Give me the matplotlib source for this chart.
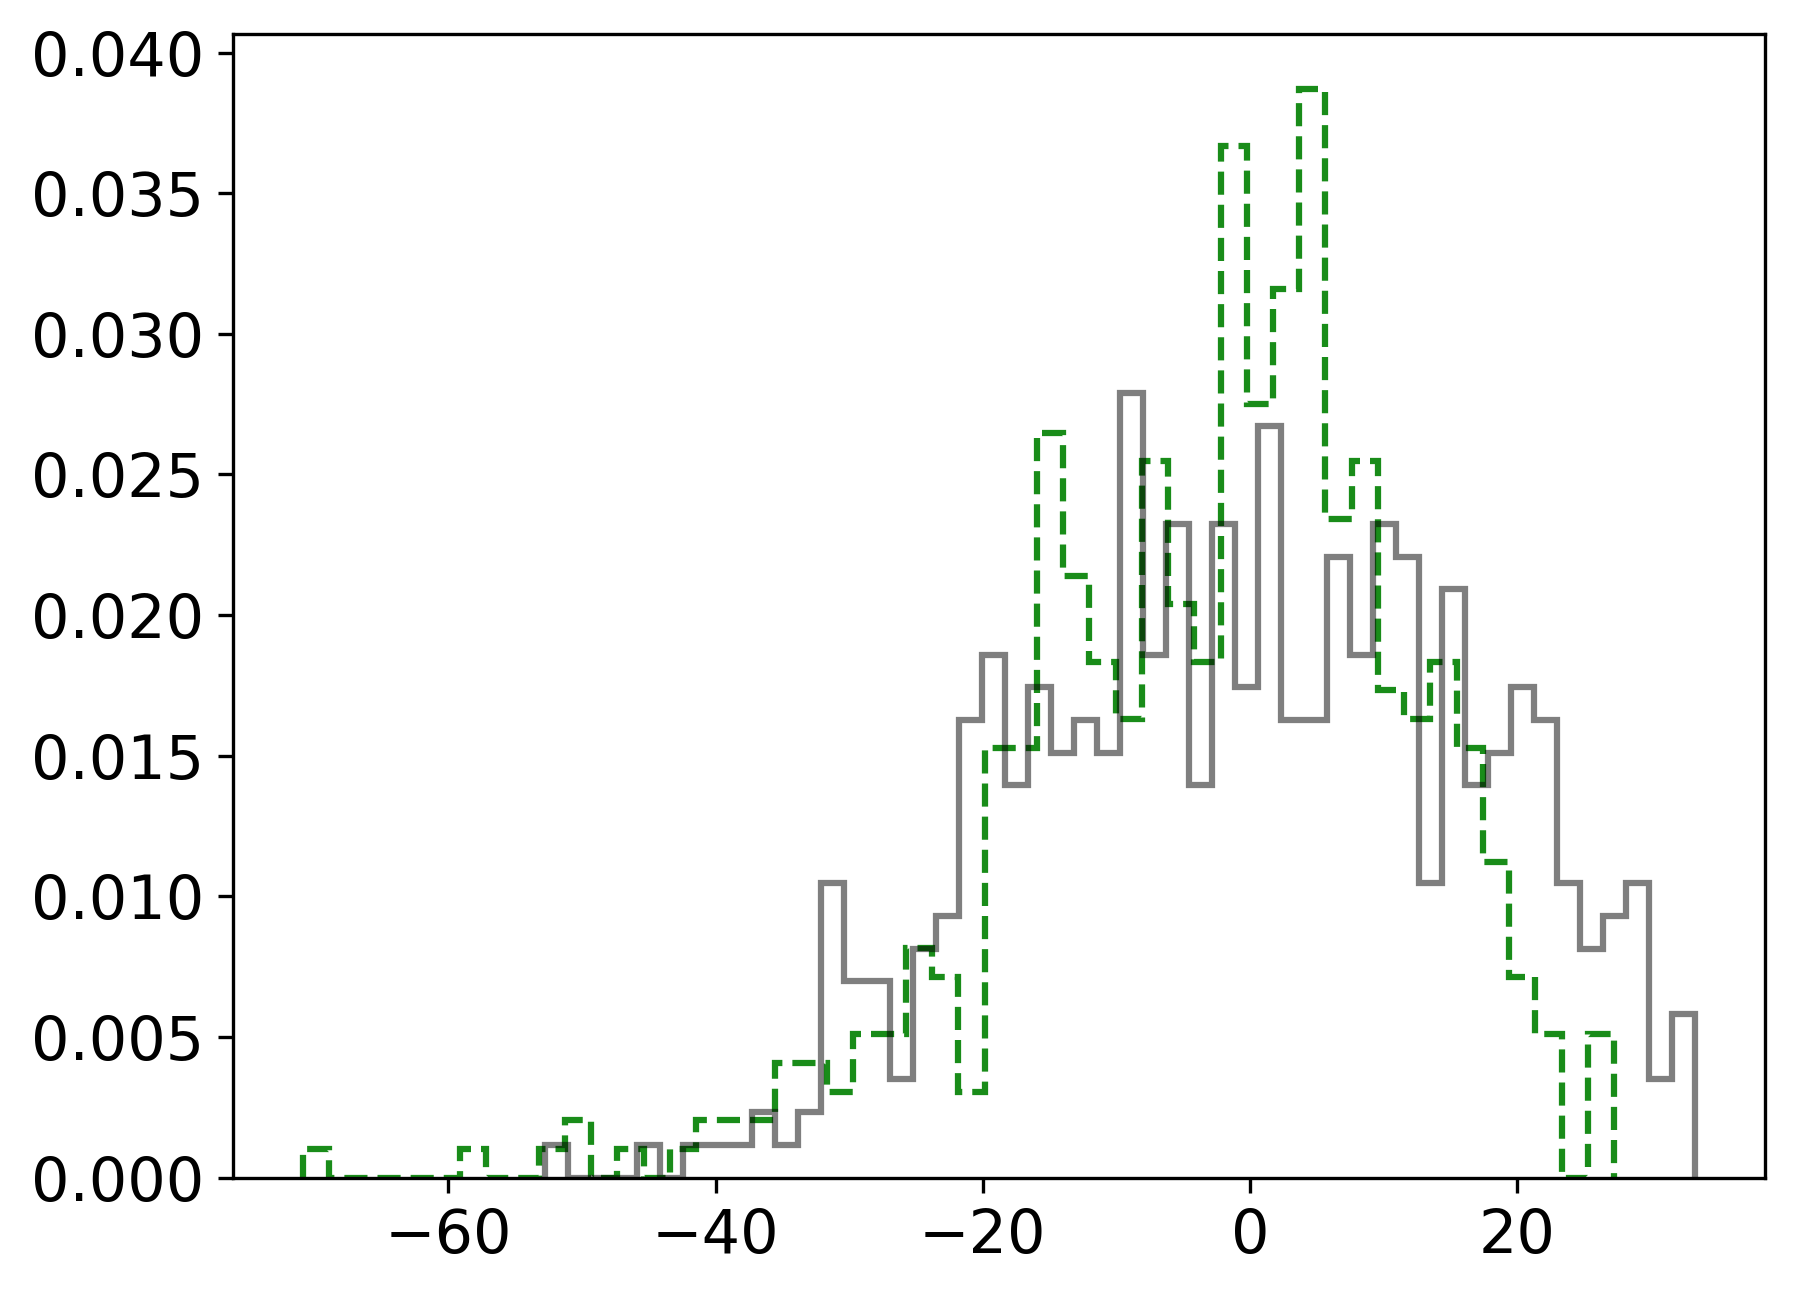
import numpy as np
import matplotlib
matplotlib.use("Agg")
import matplotlib.pyplot as plt

# Sample ranges (min, max) of the two samples
green_range = (-70.91, 27.24)
gray_range = (-52.75, 33.33)
n_bins = 50

# Counts per bin (500 samples each)
green_counts = [1, 0, 0, 0, 0, 0, 1, 0, 0, 1,
                2, 0, 1, 0, 1, 2, 2, 2, 4, 4,
                3, 5, 5, 8, 7, 3, 15, 15, 26, 21,
                18, 16, 25, 20, 18, 36, 27, 31, 38, 23,
                25, 17, 16, 18, 15, 11, 7, 5, 0, 5]
gray_counts = [1, 0, 0, 0, 1, 0, 1, 1, 1, 2,
               1, 2, 9, 6, 6, 3, 7, 8, 14, 16,
               12, 15, 13, 14, 13, 24, 16, 20, 12, 20,
               15, 23, 14, 14, 19, 16, 20, 19, 9, 18,
               12, 13, 15, 14, 9, 7, 8, 9, 3, 5]

W, H, DPI = 1797, 1296, 300
fig = plt.figure(figsize=(W / DPI, H / DPI), dpi=DPI)
ax = fig.add_axes([233 / W, 1 - 1177.5 / H, (1765 - 233) / W, (1177.5 - 34.3) / H])

g_edges = np.linspace(green_range[0], green_range[1], n_bins + 1)
k_edges = np.linspace(gray_range[0], gray_range[1], n_bins + 1)
g_centers = 0.5 * (g_edges[:-1] + g_edges[1:])
k_centers = 0.5 * (k_edges[:-1] + k_edges[1:])

ax.hist(g_centers, bins=g_edges, weights=green_counts, density=True,
        histtype='step', color='g', alpha=0.9, linestyle='--', linewidth=1.5)
ax.hist(k_centers, bins=k_edges, weights=gray_counts, density=True,
        histtype='step', color='k', alpha=0.5, linewidth=1.5)

ax.set_xticks([-60, -40, -20, 0, 20])
ax.set_yticks(np.arange(0, 0.0401, 0.005))
ax.tick_params(labelsize=14.5)

fig.savefig("out.png", dpi=DPI)
